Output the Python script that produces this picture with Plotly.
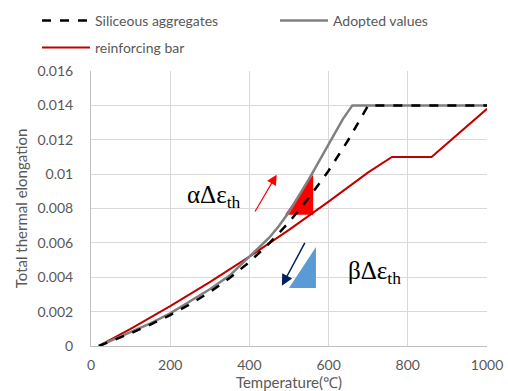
import plotly.graph_objects as go

# ---- data ----
temp_sil = [20, 100, 150, 200, 250, 300, 350, 400, 450, 500, 550, 600, 650, 700, 1000]
elong_sil = [0.0, 0.00074, 0.00125, 0.0018, 0.00243, 0.00314, 0.00395, 0.00489, 0.00597, 0.0072,
             0.00863, 0.0102, 0.012, 0.014, 0.014]

temp_adopt = [20, 100, 150, 200, 250, 300, 350, 400, 425, 450, 475, 500, 550, 600, 636, 660, 1000]
elong_adopt = [0.0, 0.0008, 0.00132, 0.0019, 0.0026, 0.0033, 0.0041, 0.0052, 0.0057, 0.0063, 0.0070,
               0.0078, 0.0097, 0.0117, 0.0132, 0.014, 0.014]

temp_bar = [20, 100, 200, 300, 400, 500, 600, 700, 760, 860, 1000]
elong_bar = [0.0, 0.001, 0.00232, 0.00372, 0.0052, 0.00676, 0.0084, 0.0101, 0.011, 0.011, 0.0138]

# annotation triangles (data coordinates)
tri_alpha_x = [490, 561, 561, 490]
tri_alpha_y = [0.00764, 0.00764, 0.00998, 0.00764]
tri_beta_x = [500, 568, 568, 500]
tri_beta_y = [0.00338, 0.00338, 0.00576, 0.00338]

# arrows: tail -> tip
arrow_alpha = [(412, 0.00774), (469, 0.00997)]
arrow_beta = [(542, 0.00609), (482, 0.0035)]

x_ticks = [0, 200, 400, 600, 800, 1000]
y_ticks = [0, 0.002, 0.004, 0.006, 0.008, 0.01, 0.012, 0.014, 0.016]

GREY_TXT = "#595959"
FONT = "Lato"

fig = go.Figure()

fig.add_trace(go.Scatter(x=tri_alpha_x, y=tri_alpha_y, fill="toself", mode="none",
                         fillcolor="#FF0000", showlegend=False, hoverinfo="skip"))
fig.add_trace(go.Scatter(x=tri_beta_x, y=tri_beta_y, fill="toself", mode="none",
                         fillcolor="#5B9BD5", showlegend=False, hoverinfo="skip"))

fig.add_trace(go.Scatter(x=temp_bar, y=elong_bar, mode="lines", name="reinforcing bar",
                         line=dict(color="#C00000", width=2), legend="legend3"))
fig.add_trace(go.Scatter(x=temp_adopt, y=elong_adopt, mode="lines", name="Adopted values",
                         line=dict(color="#808080", width=2.5), legend="legend2"))
fig.add_trace(go.Scatter(x=temp_sil, y=elong_sil, mode="lines", name="Siliceous aggregates",
                         line=dict(color="#000000", width=2.5, dash="dash"), legend="legend"))

for (tail, tip, col, w, s) in [(arrow_alpha[0], arrow_alpha[1], "#FF0000", 1.2, 1.7),
                               (arrow_beta[0], arrow_beta[1], "#002060", 1.5, 1.5)]:
    fig.add_annotation(x=tip[0], y=tip[1], ax=tail[0], ay=tail[1], xref="x", yref="y",
                       axref="x", ayref="y", showarrow=True, arrowhead=2, arrowcolor=col,
                       arrowwidth=w, arrowsize=s, text="")

fig.add_annotation(x=237, y=0.0087, xref="x", yref="y", xanchor="left", yanchor="middle",
                   text="αΔε<sub>th</sub>", showarrow=False,
                   font=dict(family="Liberation Serif", size=25, color="#000000"))
fig.add_annotation(x=644, y=0.0043, xref="x", yref="y", xanchor="left", yanchor="middle",
                   text="βΔε<sub>th</sub>", showarrow=False,
                   font=dict(family="Liberation Serif", size=25, color="#000000"))

leg_common = dict(orientation="h", xanchor="left", yanchor="middle", bgcolor="rgba(0,0,0,0)",
                  font=dict(family=FONT, size=14, color=GREY_TXT), itemwidth=48,
                  xref="container", yref="container")
fig.update_layout(
    width=508, height=391,
    margin=dict(l=91, r=21, t=71, b=45, autoexpand=False),
    paper_bgcolor="white", plot_bgcolor="white",
    font=dict(family=FONT, size=14, color=GREY_TXT),
    legend=dict(x=37 / 508, y=1 - 21 / 391, **leg_common),
    legend2=dict(x=275 / 508, y=1 - 21 / 391, **leg_common),
    legend3=dict(x=37 / 508, y=1 - 48 / 391, **leg_common),
    xaxis=dict(range=[0, 1000], tickvals=x_ticks, showgrid=True, gridcolor="#D9D9D9",
               zeroline=False, showline=True, linecolor="#BFBFBF", linewidth=1,
               ticks="", ticklabelstandoff=6, tickfont=dict(family=FONT, size=14, color=GREY_TXT),
               title=dict(text="Temperature(℃)", standoff=0,
                          font=dict(family=FONT, size=15, color=GREY_TXT))),
    yaxis=dict(range=[0, 0.016], tickvals=y_ticks, showgrid=True, gridcolor="#D9D9D9",
               zeroline=False, showline=True, linecolor="#BFBFBF", linewidth=1,
               ticks="", ticklabelstandoff=14, tickfont=dict(family=FONT, size=14, color=GREY_TXT),
               title=dict(text="Total thermal elongation", standoff=6,
                          font=dict(family=FONT, size=15, color=GREY_TXT))),
)

fig.write_html("out.html")
